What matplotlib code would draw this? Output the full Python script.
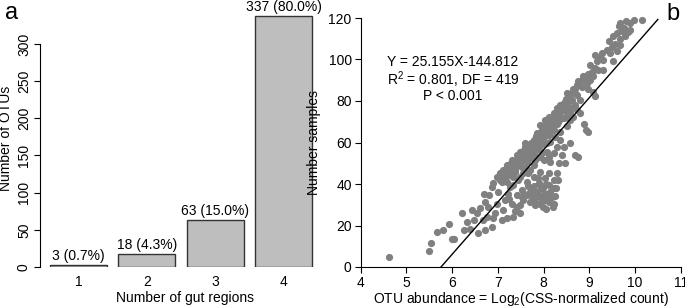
#!/usr/bin/env python3
"""Two-panel figure: OTUs per number of gut regions, and OTU abundance vs number of samples."""

import matplotlib
matplotlib.use("Agg")
import matplotlib.pyplot as plt

plt.rcParams["font.family"] = ["Liberation Sans", "DejaVu Sans"]
plt.rcParams["mathtext.default"] = "regular"

# panel a
regions = [1, 2, 3, 4]
otu_counts = [3, 18, 63, 337]
bar_labels = ["3 (0.7%)", "18 (4.3%)", "63 (15.0%)", "337 (80.0%)"]

# panel b, points, grouped by area of the cloud
tail_x = [4.61, 5.50, 5.54, 5.66, 5.79, 5.94, 5.99, 6.04, 6.22, 6.25, 6.32, 6.39,
          6.47, 6.54, 6.43, 6.57, 6.61, 6.68, 6.73, 6.76, 6.79, 6.81, 6.87, 6.90,
          6.94, 6.98, 6.73, 6.70, 6.90, 7.01, 7.05, 7.05, 7.09, 7.12, 7.16, 7.19,
          7.23, 7.27, 7.30, 7.34, 7.38, 7.41, 7.45, 7.49, 7.52]
tail_y = [4.8, 7.7, 11.8, 16.8, 17.7, 20.9, 13.7, 13.7, 25.8, 17.7, 21.7, 18.5,
          22.6, 25.8, 27.4, 16.6, 28.2, 22.6, 18.0, 24.2, 29.0, 34.6, 19.3, 23.4,
          25.8, 30.6, 31.1, 35.4, 40.3, 36.2, 41.9, 45.1, 22.6, 27.4, 32.2, 23.4,
          35.4, 38.7, 30.6, 24.2, 46.7, 29.0, 41.9, 25.8, 33.8]

top_x = [10.15, 9.97, 9.88, 9.81, 9.67, 9.66, 9.75, 9.89, 9.84, 9.71, 9.60, 9.78,
         9.53, 9.67, 9.44, 9.56, 9.67, 9.49, 9.38, 9.60, 9.46, 9.28, 9.13, 9.24,
         9.31, 9.53, 9.16, 9.02, 9.13, 9.20, 9.31, 9.05, 8.98, 9.09, 8.91, 9.02,
         8.84, 8.95, 8.76, 8.73, 8.84, 8.65, 8.98, 9.13, 9.09, 8.58, 8.73, 8.51,
         8.62, 8.80, 8.47, 8.69, 8.54, 8.36, 8.29, 8.44, 8.58, 8.73, 8.80, 8.22,
         8.33, 8.11, 8.25, 8.40, 8.58, 8.04, 8.14, 8.29, 7.93, 8.51, 8.65]
top_y = [119.0, 118.9, 117.6, 118.4, 117.6, 116.3, 115.2, 114.4, 113.1, 113.6, 112.8, 111.1,
         111.1, 109.9, 108.7, 107.6, 107.1, 105.8, 104.7, 103.9, 103.1, 103.1, 102.3, 101.2,
         99.9, 99.1, 99.1, 97.5, 95.8, 95.0, 95.0, 94.2, 93.1, 92.1, 91.5, 90.2,
         90.2, 88.6, 89.4, 87.8, 86.7, 85.7, 85.7, 82.2, 84.1, 83.0, 83.0, 83.8,
         80.5, 80.5, 79.7, 78.1, 77.3, 78.1, 76.5, 75.7, 74.9, 75.7, 74.1, 74.1,
         73.3, 72.5, 71.7, 71.7, 70.9, 70.9, 70.1, 68.9, 68.5, 68.0, 72.5]

ridge_x = [8.89, 8.93, 8.98, 8.07, 8.22, 7.97, 8.36, 7.85, 8.11, 8.00, 8.25, 7.89,
           8.14, 8.36, 7.78, 8.00, 7.71, 8.29, 7.85, 7.60, 7.92, 7.68, 7.78, 7.52,
           8.07, 8.22, 7.64, 7.41, 7.85, 7.52, 7.74, 7.30, 8.00, 8.14, 7.64, 7.41,
           7.19, 7.52, 7.78, 7.27, 7.12, 7.38, 8.33, 8.47, 8.69, 8.76, 8.40, 8.58,
           8.44, 6.98, 6.87, 7.09, 7.23, 7.34, 7.16, 7.45, 7.60, 7.71, 7.56, 7.34,
           7.67, 7.81, 7.92, 7.74, 7.89, 8.07, 7.96, 8.11, 7.49, 7.60, 8.14, 8.04,
           8.22, 8.33, 8.44, 8.51, 8.36, 8.65]
ridge_y = [68.9, 66.0, 65.2, 66.8, 66.0, 65.2, 65.2, 64.4, 63.6, 62.5, 62.5, 61.2,
           60.4, 61.2, 59.9, 59.3, 58.8, 58.0, 58.0, 58.0, 56.4, 56.4, 55.6, 55.6,
           55.6, 54.8, 54.0, 54.0, 53.2, 52.4, 52.4, 51.5, 51.5, 50.7, 50.7, 49.9,
           49.1, 48.3, 49.1, 47.5, 46.7, 45.9, 49.9, 49.9, 54.0, 53.2, 54.0, 59.6,
           58.0, 43.5, 38.7, 41.1, 44.3, 43.5, 45.1, 49.1, 47.5, 46.7, 45.1, 48.3,
           53.2, 51.5, 53.2, 58.0, 58.8, 59.6, 54.8, 53.2, 55.6, 59.6, 65.2, 68.5,
           69.3, 70.9, 71.7, 73.3, 74.9, 77.3]

band_x = [7.05, 7.10, 7.15, 7.20, 7.25, 7.28, 7.32, 7.36, 7.40, 7.44, 7.47, 7.50,
          7.53, 7.56, 7.58, 7.62, 7.65, 7.68, 7.70, 7.73, 7.76, 7.79, 7.82, 7.84,
          7.87, 7.90, 7.93, 7.96, 7.99, 8.02, 8.05, 8.08, 8.12, 8.16, 8.20, 8.26,
          8.31, 8.38, 8.45, 8.50, 8.56, 8.62, 8.68, 8.75, 8.86]
band_y = [44, 46, 43, 48, 45, 50, 47, 51, 48, 53, 50, 54,
          51, 56, 53, 57, 54, 58, 55, 60, 57, 61, 58, 63,
          60, 64, 61, 66, 63, 67, 64, 69, 66, 71, 68, 73,
          70, 76, 79, 81, 80, 84, 86, 88, 92]

low_x = [7.92, 8.11, 8.29, 7.78, 8.03, 8.22, 7.63, 7.89, 8.11, 7.74, 7.99, 8.22,
         7.52, 7.85, 8.07, 7.63, 7.92, 8.18, 7.78, 8.03, 7.71, 8.11, 7.92, 8.22,
         7.81, 7.56, 7.41, 7.34, 7.19, 7.49, 7.67, 7.70, 7.75, 7.80, 7.84, 7.88,
         7.95, 7.98, 8.02, 8.06, 8.10, 8.15, 8.20, 8.25, 8.28, 8.32, 7.66, 7.58,
         7.88, 7.96, 8.05, 7.48, 7.38, 7.25]
low_y = [45.9, 45.1, 45.1, 43.5, 42.7, 41.9, 41.1, 40.3, 39.5, 37.9, 37.9, 37.9,
         37.0, 36.2, 35.4, 34.6, 33.8, 33.8, 33.0, 32.2, 31.4, 31.4, 30.6, 30.6,
         29.8, 32.2, 34.6, 39.5, 41.1, 43.5, 45.1, 36, 34, 39, 31, 35,
         38, 29, 35, 40, 33, 36, 29, 34, 38, 42, 39, 35,
         43, 32, 28, 30, 27, 33]

otu_abundance = tail_x + top_x + ridge_x + band_x + low_x
n_samples = tail_y + top_y + ridge_y + band_y + low_y

slope, intercept = 25.155, -144.812
fit_x = [-intercept / slope, 10.5]


def draw_bars(ax):
    pos = [0.7 + 1.2 * (r - 1) for r in regions]
    bars = ax.bar(pos, otu_counts, width=1.0, color="#bebebe",
                  edgecolor="#333333", linewidth=1.0)
    for b, lab in zip(bars, bar_labels):
        ax.annotate(lab, (b.get_x() + b.get_width() / 2, b.get_height()),
                    xytext=(0, 1.5), textcoords="offset points",
                    ha="center", va="bottom", fontsize=10, annotation_clip=False)

    ax.set_xlim(0.0244, 5.116)
    ax.set_ylim(0, 345.7)
    ax.set_xticks(pos)
    ax.set_xticklabels([str(r) for r in regions])
    ax.tick_params(axis="x", length=0, pad=6, labelsize=10)
    ax.set_yticks(range(0, 301, 50))
    ax.tick_params(axis="y", length=4.5, width=0.8, pad=2, labelsize=10)
    for t in ax.get_yticklabels():
        t.set_rotation(90)
        t.set_va("center")
    for s in ("top", "right", "bottom"):
        ax.spines[s].set_visible(False)
    ax.spines["left"].set_bounds(0, 300)
    ax.spines["left"].set_linewidth(0.8)
    ax.set_xlabel("Number of gut regions", fontsize=10, labelpad=1)
    ax.set_ylabel("Number of OTUs", fontsize=10, labelpad=3)


def draw_scatter(ax):
    ax.scatter(otu_abundance, n_samples, s=27, color="#808080",
               linewidths=0, clip_on=False, zorder=2)
    ax.plot(fit_x, [slope * x + intercept for x in fit_x],
            color="black", lw=1.0, zorder=3)

    ax.text(6.02, 98.8, "Y = 25.155X-144.812", ha="center", va="center", fontsize=10)
    ax.text(6.02, 90.3, "R$^2$ = 0.801, DF = 419", ha="center", va="center", fontsize=10)
    ax.text(6.02, 82.4, "P < 0.001", ha="center", va="center", fontsize=10)

    ax.set_xlim(4, 11)
    ax.set_ylim(0, 120)
    ax.set_xticks(range(4, 12))
    ax.set_yticks(range(0, 121, 20))
    ax.tick_params(length=4.5, width=0.8, pad=2, labelsize=10)
    for s in ("top", "right"):
        ax.spines[s].set_visible(False)
    for s in ("left", "bottom"):
        ax.spines[s].set_linewidth(0.8)
    ax.set_xlabel("OTU abundance = Log$_2$(CSS-normalized count)", fontsize=10, labelpad=0)
    ax.set_ylabel("Number samples", fontsize=10, labelpad=5)


def main():
    fig = plt.figure(figsize=(6.85, 3.07), dpi=100)
    ax_a = fig.add_axes([40 / 685, 40 / 307, 290 / 685, 257 / 307])
    ax_b = fig.add_axes([360.7 / 685, 40 / 307, 320 / 685, 249 / 307])

    draw_bars(ax_a)
    draw_scatter(ax_b)

    fig.text(12 / 685, 1 - 13 / 307, "a", fontsize=17, ha="center", va="center")
    fig.text(673 / 685, 1 - 14 / 307, "b", fontsize=17, ha="center", va="center")

    fig.savefig("out.png", dpi=100)


if __name__ == "__main__":
    main()
